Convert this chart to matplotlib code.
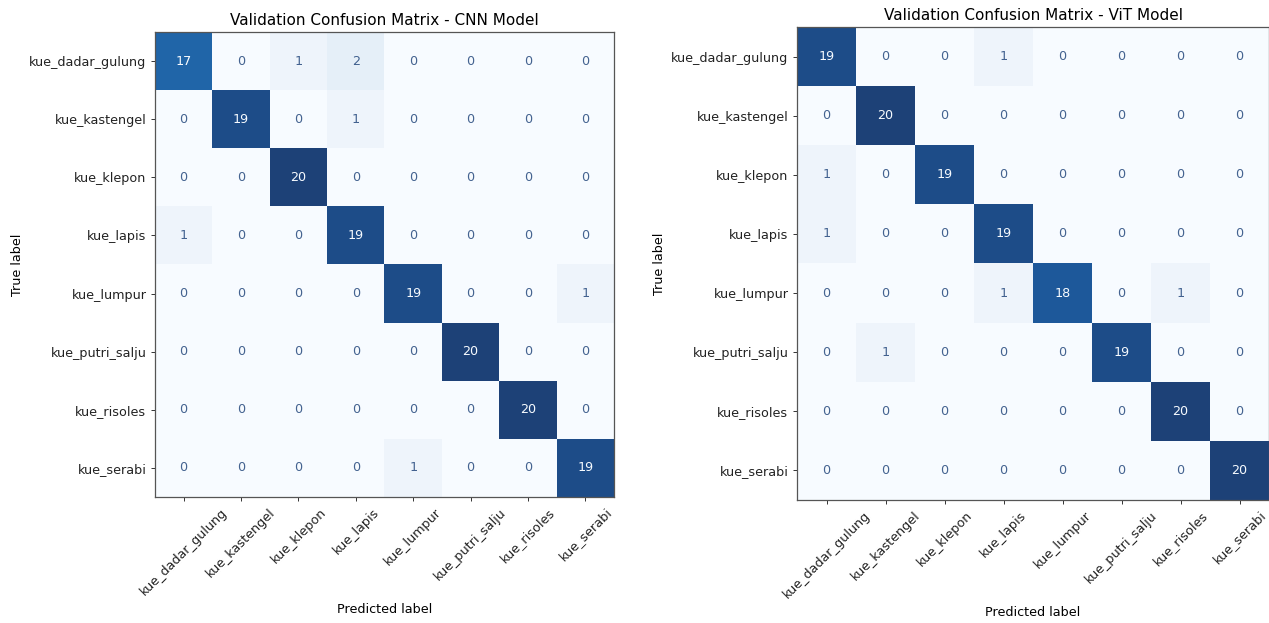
import numpy as np
import matplotlib.pyplot as plt

# nama kelas kue
kelas = ["kue_dadar_gulung", "kue_kastengel", "kue_klepon", "kue_lapis",
         "kue_lumpur", "kue_putri_salju", "kue_risoles", "kue_serabi"]

# confusion matrix validasi (baris = label asli, kolom = prediksi)
cm_cnn = [
    [17, 0, 1, 2, 0, 0, 0, 0],
    [0, 19, 0, 1, 0, 0, 0, 0],
    [0, 0, 20, 0, 0, 0, 0, 0],
    [1, 0, 0, 19, 0, 0, 0, 0],
    [0, 0, 0, 0, 19, 0, 0, 1],
    [0, 0, 0, 0, 0, 20, 0, 0],
    [0, 0, 0, 0, 0, 0, 20, 0],
    [0, 0, 0, 0, 1, 0, 0, 19],
]
cm_vit = [
    [19, 0, 0, 1, 0, 0, 0, 0],
    [0, 20, 0, 0, 0, 0, 0, 0],
    [1, 0, 19, 0, 0, 0, 0, 0],
    [1, 0, 0, 19, 0, 0, 0, 0],
    [0, 0, 0, 1, 18, 0, 1, 0],
    [0, 1, 0, 0, 0, 19, 0, 0],
    [0, 0, 0, 0, 0, 0, 20, 0],
    [0, 0, 0, 0, 0, 0, 0, 20],
]

FS = 9.2


def gambar_cm(ax, cm, judul):
    cm = np.array(cm)
    cmap = plt.get_cmap("Blues")
    ax.imshow(cm, cmap=cmap, aspect="auto", interpolation="nearest", alpha=0.92)
    batas = (cm.max() + cm.min()) / 2.0
    for i in range(cm.shape[0]):
        for j in range(cm.shape[1]):
            warna = cmap(0.0) if cm[i, j] >= batas else cmap(1.0)
            ax.text(j, i, str(cm[i, j]), ha="center", va="center",
                    color=warna, fontsize=FS, alpha=0.75 if cm[i, j] < batas else 1)
    n = len(kelas)
    ax.set_xticks(range(n))
    ax.set_yticks(range(n))
    # label sumbu x diputar 45 derajat, tetap di tengah tick
    ax.set_xticklabels(kelas, rotation=45, ha="center", fontsize=FS)
    ax.set_yticklabels(kelas, fontsize=FS)
    ax.set_xlim(-0.5, n - 0.5)
    ax.set_ylim(n - 0.5, -0.5)
    ax.set_xlabel("Predicted label", fontsize=FS, labelpad=4)
    ax.set_ylabel("True label", fontsize=FS)
    ax.set_title(judul, fontsize=11, pad=5)
    ax.tick_params(length=3.2, width=0.7, color="#333333", labelcolor="#222222", pad=3)
    for s in ax.spines.values():
        s.set_linewidth(0.9)
        s.set_color("#555555")


fig = plt.figure(figsize=(12.69, 6.23), dpi=100)
ax1 = fig.add_axes([155 / 1269, 126 / 623, 459 / 1269, 465 / 623])
ax2 = fig.add_axes([797 / 1269, 123 / 623, 472 / 1269, 473 / 623])

gambar_cm(ax1, cm_cnn, "Validation Confusion Matrix - CNN Model")
gambar_cm(ax2, cm_vit, "Validation Confusion Matrix - ViT Model")

fig.savefig("out.png", dpi=100)
